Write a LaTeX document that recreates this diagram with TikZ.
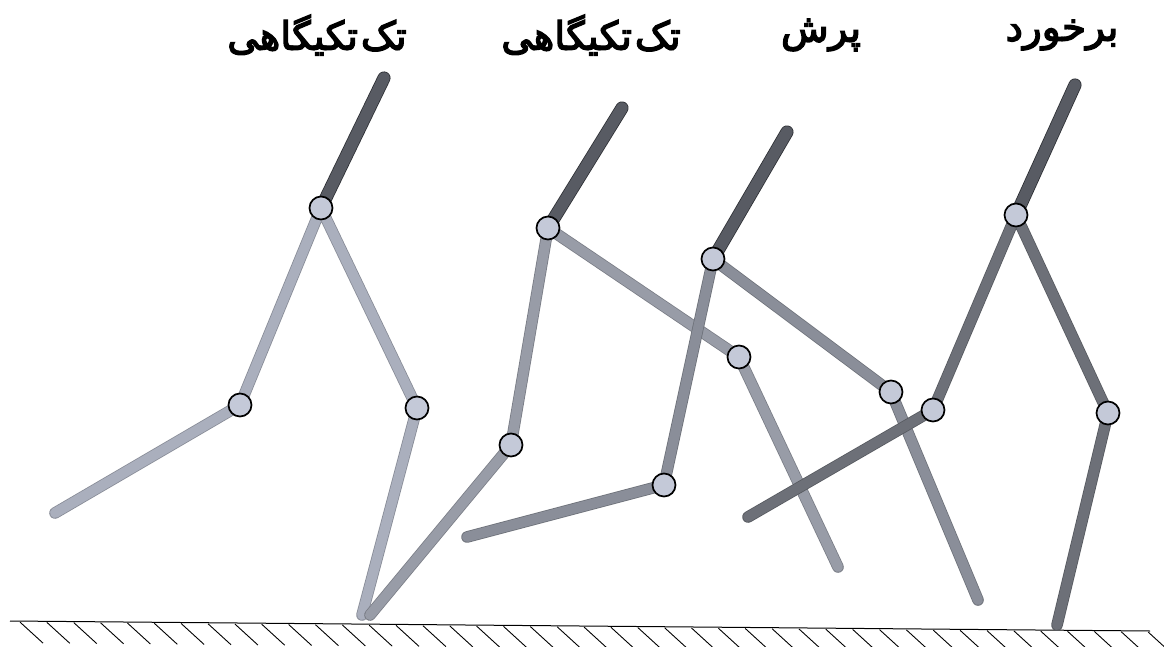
\documentclass[tikz,border=0pt]{standalone}
\usepackage{fontspec}
\usepackage{tikz}
\usetikzlibrary{calc}
\newfontfamily\persianfont[Script=Arabic,FakeBold=3.5]{DejaVu Sans}
\TeXXeTstate=1
\definecolor{torsofill}{RGB}{88,91,99}
\definecolor{torsoedge}{RGB}{45,47,52}
\definecolor{jointfill}{RGB}{196,201,216}
\definecolor{legone}{RGB}{170,175,189}
\definecolor{legtwo}{RGB}{152,156,167}
\definecolor{legthree}{RGB}{138,142,153}
\definecolor{legfour}{RGB}{109,112,120}
\tikzstyle{limb} = [line width=0.8pt,double distance=10pt,line cap=round,line join=round]
\tikzstyle{torso} = [limb,double distance=11.5pt,draw=torsoedge,double=torsofill]
\tikzstyle{joint} = [draw=black,circle,line width=1.7pt,fill=jointfill,inner sep=0pt,minimum size=23pt]
\tikzstyle{ground} = [line width=1pt]
\tikzstyle{hatch} = [line width=0.9pt]
\tikzstyle{tag} = [font=\persianfont\fontsize{39}{44}\selectfont,inner sep=0pt]

\begin{document}
\begin{tikzpicture}[x=1pt,y=-1pt]
    \useasboundingbox (0,0) rectangle (1164,647);
    % ground with hatching
    \coordinate (g0) at (10,621);
    \coordinate (g1) at (1150,631);
    \draw [ground] (g0) -- (g1);
    \foreach \i in {0,...,42}
      \draw [hatch] ($(g0)!{(20+26.86*\i-10)/1140}!(g1)$) ++(0,1) -- ++(23,21);
    %
    % first figure
    \coordinate (h1) at (321,208); \coordinate (t1) at (384,78);
    \coordinate (k1a) at (240,405); \coordinate (f1a) at (55,513);
    \coordinate (k1b) at (417,408); \coordinate (f1b) at (362,615);
    \draw [limb,draw=legone!80!black,double=legone] (f1a) -- (k1a) -- (h1) -- (k1b) -- (f1b);
    \draw [torso] (h1) -- (t1);
    \node[joint] (hip1) at (h1) {};
    \node[joint] (kneeA1) at (k1a) {};
    \node[joint] (kneeB1) at (k1b) {};
    %
    % second figure
    \coordinate (h2) at (548,228); \coordinate (t2) at (622,108);
    \coordinate (k2a) at (511,445); \coordinate (f2a) at (370,615);
    \coordinate (k2b) at (739,357); \coordinate (f2b) at (838,567);
    \draw [limb,draw=legtwo!80!black,double=legtwo] (f2a) -- (k2a) -- (h2) -- (k2b) -- (f2b);
    \draw [torso] (h2) -- (t2);
    \node[joint] (hip2) at (h2) {};
    \node[joint] (kneeA2) at (k2a) {};
    \node[joint] (kneeB2) at (k2b) {};
    %
    % third figure
    \coordinate (h3) at (713,259); \coordinate (t3) at (787,132);
    \coordinate (k3a) at (664,485); \coordinate (f3a) at (467,537);
    \coordinate (k3b) at (891,392); \coordinate (f3b) at (978,600);
    \draw [limb,draw=legthree!80!black,double=legthree] (f3a) -- (k3a) -- (h3) -- (k3b) -- (f3b);
    \draw [torso] (h3) -- (t3);
    \node[joint] (hip3) at (h3) {};
    \node[joint] (kneeA3) at (k3a) {};
    \node[joint] (kneeB3) at (k3b) {};
    %
    % fourth figure
    \coordinate (h4) at (1016,215); \coordinate (t4) at (1075,85);
    \coordinate (k4a) at (933,410); \coordinate (f4a) at (748,517);
    \coordinate (k4b) at (1108,413); \coordinate (f4b) at (1057,625);
    \draw [limb,draw=legfour!80!black,double=legfour] (f4a) -- (k4a) -- (h4) -- (k4b) -- (f4b);
    \draw [torso] (h4) -- (t4);
    \node[joint] (hip4) at (h4) {};
    \node[joint] (kneeA4) at (k4a) {};
    \node[joint] (kneeB4) at (k4b) {};
    %
    % phase names
    \node[tag] (phase1) at (317,35) {\beginR تک^^^^200c\kern3pt تکیگاهی\endR};
    \node[tag] (phase2) at (591,35) {\beginR تک^^^^200c\kern3pt تکیگاهی\endR};
    \node[tag] (phase3) at (821,35) {\beginR پرش\endR};
    \node[tag] (phase4) at (1062,35) {\beginR برخورد\endR};
\end{tikzpicture}
\end{document}
